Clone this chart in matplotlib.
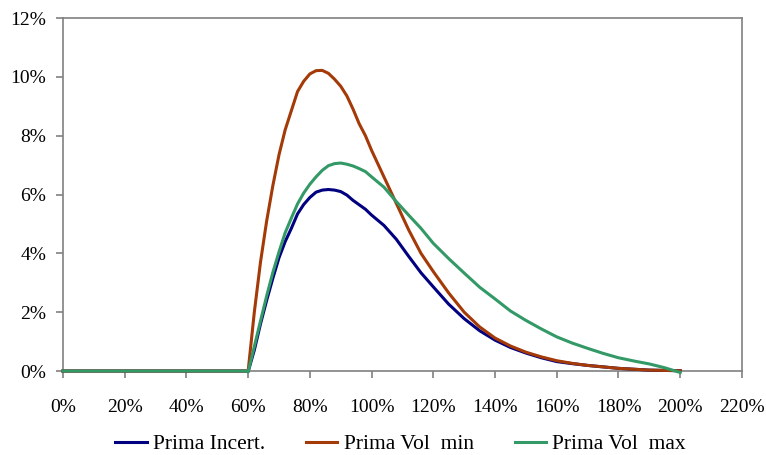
import matplotlib
matplotlib.use("Agg")
import matplotlib.pyplot as plt
from matplotlib.ticker import FuncFormatter, MultipleLocator

# moneyness (%) and the three premium distributions (%)
x = [0, 59, 60, 62, 64, 66, 68, 70, 72, 74, 76, 78, 80, 82, 84, 86, 88, 90,
     92, 94, 96, 98, 100, 104, 108, 112, 116, 120, 125, 130, 135, 140, 145,
     150, 155, 160, 165, 170, 175, 180, 185, 190, 195, 200]

prima_incert = [0, 0, -0.02, 0.71, 1.6, 2.4, 3.15, 3.85, 4.4, 4.85, 5.34, 5.66,
                5.9, 6.08, 6.15, 6.17, 6.15, 6.1, 5.98, 5.8, 5.65, 5.5, 5.3,
                4.95, 4.48, 3.9, 3.34, 2.86, 2.27, 1.78, 1.37, 1.05, 0.8, 0.61,
                0.45, 0.32, 0.25, 0.19, 0.14, 0.09, 0.06, 0.03, 0.02, 0.01]

prima_vol_min = [0, 0, 0, 2.0, 3.7, 5.1, 6.3, 7.35, 8.2, 8.85, 9.5, 9.85,
                 10.1, 10.21, 10.22, 10.12, 9.92, 9.68, 9.35, 8.9, 8.4, 8.0,
                 7.5, 6.6, 5.7, 4.8, 4.0, 3.38, 2.65, 2.0, 1.5, 1.12, 0.85,
                 0.64, 0.48, 0.35, 0.26, 0.19, 0.14, 0.09, 0.06, 0.03, 0.02,
                 0.01]

prima_vol_max = [0, 0, -0.03, 0.83, 1.7, 2.55, 3.35, 4.05, 4.7, 5.2, 5.68,
                 6.05, 6.35, 6.6, 6.82, 6.98, 7.05, 7.07, 7.03, 6.97, 6.88,
                 6.78, 6.6, 6.25, 5.76, 5.3, 4.85, 4.34, 3.82, 3.33, 2.85,
                 2.45, 2.04, 1.72, 1.43, 1.16, 0.95, 0.77, 0.6, 0.45, 0.34,
                 0.24, 0.11, -0.05]

labels = ["Prima Incert.", "Prima Vol  min", "Prima Vol  max"]
colors = ["#000080", "#a33a08", "#339966"]

plt.rcParams["font.family"] = ["Liberation Serif", "DejaVu Serif"]

fig = plt.figure(figsize=(7.66, 4.55), dpi=100)
ax = fig.add_axes([0.0822, 0.1846, 0.8864, 0.7758])

for series, lab, col in zip([prima_incert, prima_vol_min, prima_vol_max], labels, colors):
    ax.plot(x, series, color=col, lw=2.2, label=lab, clip_on=False, zorder=3)

ax.set_xlim(0, 220)
ax.set_ylim(0, 12)
ax.xaxis.set_major_locator(MultipleLocator(20))
ax.yaxis.set_major_locator(MultipleLocator(2))
pct = FuncFormatter(lambda v, p: "%d%%" % round(v))
ax.xaxis.set_major_formatter(pct)
ax.yaxis.set_major_formatter(pct)

for s in ax.spines.values():
    s.set_color("#808080")
    s.set_linewidth(1.2)
ax.tick_params(axis="both", direction="out", length=5, width=1.2, color="#808080",
               labelsize=14, labelcolor="black")
ax.tick_params(axis="x", pad=15)
ax.tick_params(axis="y", pad=7)

fig.legend(loc="center", bbox_to_anchor=(0.523, 0.024), ncol=3, frameon=False,
           fontsize=15.5, handlelength=1.45, handletextpad=0.3, columnspacing=1.9)

fig.savefig("out.png", dpi=100)
